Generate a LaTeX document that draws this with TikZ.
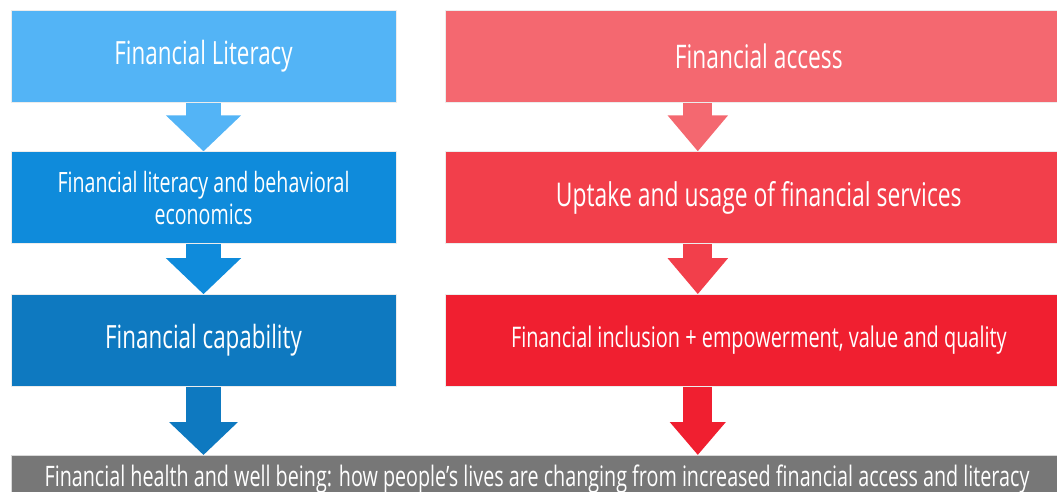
\documentclass[tikz,border=0pt]{standalone}
\usepackage{fontspec}
\setmainfont{Open Sans}[FakeStretch=0.70]
\usetikzlibrary{arrows.meta, positioning, calc, backgrounds}
\definecolor{litA}{HTML}{53B4F6}
\definecolor{litB}{HTML}{0F8BDB}
\definecolor{litC}{HTML}{0E79C0}
\definecolor{accA}{HTML}{F46870}
\definecolor{accB}{HTML}{F23F4B}
\definecolor{accC}{HTML}{F01F30}
\definecolor{barGray}{HTML}{777777}
\tikzset{
    stage/.style={
        rectangle,
        draw=gray!15,
        line width=0.8pt,
        text=white,
        align=center,
        inner sep=0pt,
        minimum height=92pt
    },
    litbox/.style={
        stage,
        minimum width=385pt
    },
    accbox/.style={
        stage,
        minimum width=626pt
    },
    bar/.style={
        rectangle,
        draw=gray!30,
        line width=0.8pt,
        fill=barGray,
        text=white,
        inner sep=0pt,
        minimum width=1052pt,
        minimum height=48pt
    },
    litflow/.style={
        line width=35pt,
        -{Triangle[length=36pt, width=73pt]}
    },
    accflow/.style={
        line width=29pt,
        -{Triangle[length=36pt, width=58pt]}
    }
}

\begin{document}
\begin{tikzpicture}[x=1pt, y=-1pt]
\useasboundingbox (0,0) rectangle (1057,492);

% Literacy column
\node[litbox, fill=litA, font=\fontsize{32}{36}\selectfont] (lit) at (203.5,56) {Financial Literacy};
\node[litbox, fill=litB, font=\fontsize{28}{32}\selectfont, below=49pt of lit] (litecon) {Financial literacy and behavioral\\economics};
\node[litbox, fill=litC, font=\fontsize{32}{36}\selectfont, below=50pt of litecon] (litcap) {Financial capability};

% Access column
\node[accbox, fill=accA, font=\fontsize{32.5}{36}\selectfont, right=49pt of lit] (acc) {Financial access};
\node[accbox, fill=accB, font=\fontsize{32.7}{36}\selectfont, below=49pt of acc] (accuse) {Uptake and usage of financial services};
\node[accbox, fill=accC, font=\fontsize{28.4}{32}\selectfont, below=50pt of accuse] (accinc) {Financial inclusion + empowerment, value and quality};

% Outcome
\node[bar, font=\fontsize{28.2}{32}\selectfont, below=68pt of litcap.south west, anchor=north west] (health) {Financial health and well being: how people’s lives are changing from increased financial access and literacy};

% Flow arrows
\begin{scope}[on background layer]
\draw[litflow, litA] (lit.south) -- (litecon.north);
\draw[litflow, litB] (litecon.south) -- (litcap.north);
\draw[litflow, litC, -{Triangle[length=33pt, width=67pt]}] (litcap.south) -- (litcap.south |- health.north);
\draw[accflow, accA] ([xshift=-61pt]acc.south) -- ([xshift=-61pt]accuse.north);
\draw[accflow, accB] ([xshift=-61pt]accuse.south) -- ([xshift=-61pt]accinc.north);
\draw[accflow, accC, -{Triangle[length=33pt, width=54pt]}] ([xshift=-61pt]accinc.south) -- ([xshift=-61pt]accinc.south |- health.north);
\end{scope}

\end{tikzpicture}
\end{document}
